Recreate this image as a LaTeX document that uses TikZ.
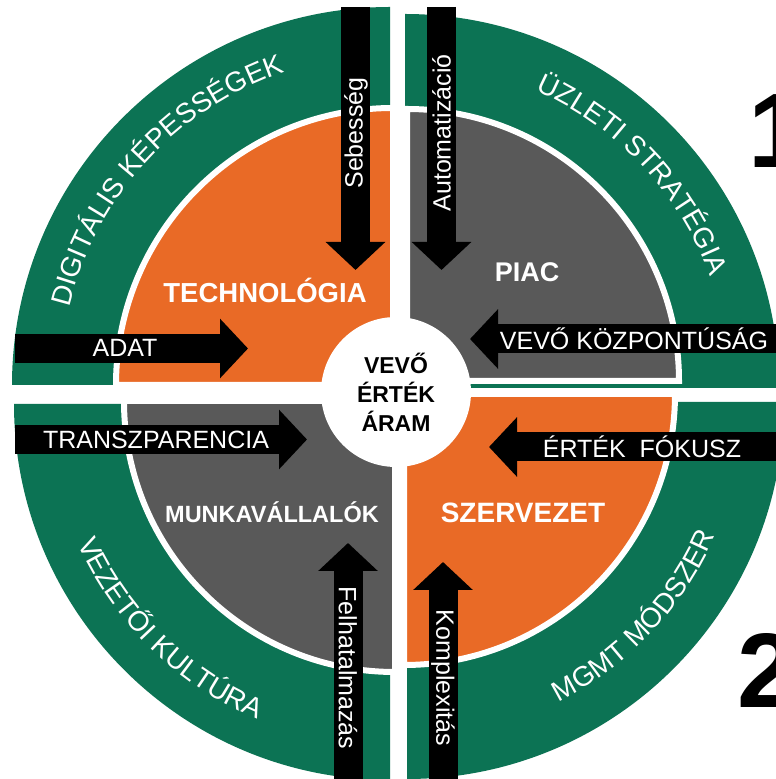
\documentclass[tikz,border=0pt]{standalone}
\usepackage{fontspec}
\setmainfont{Liberation Sans}
\usetikzlibrary{arrows.meta,decorations.text}
\definecolor{ringgreen}{RGB}{12,115,84}
\definecolor{quadorange}{RGB}{233,106,38}
\definecolor{quadgray}{RGB}{89,89,89}
\newcommand{\arrowfont}{\fontsize{25}{30}\selectfont}
\newcommand{\quadfont}[1]{\fontsize{#1}{#1}\selectfont\bfseries}
\newcommand{\ringfont}{\fontsize{28}{32}\selectfont}
\def\numsize{106}

\tikzset{
  blockarrow/.style={line width=29pt, -{Triangle[length=28pt,width=58pt]}},
  arrowlabel/.style={text=white, font=\arrowfont, inner sep=0pt},
  quadlabel/.style={text=white, inner sep=0pt},
  ringlabel/.style={decorate, decoration={text along path, text align=center,
      text color=white, text={|\ringfont|#1}}},
}

\begin{document}
\begin{tikzpicture}[x=1pt,y=1pt]
  \useasboundingbox (0,0) rectangle (776,779);
  \fill[white] (0,0) rectangle (776,779);
  \foreach \gx/\gy/\rg/\cx/\cy/\rc/\col/\a in {390/394/378/393/394/277/quadorange/90,
      405/391/374/407/398/272/quadgray/0, 390/375/376/395/378/271/quadgray/180,
      407/377/377/404/385/271/quadorange/270} {
    \fill[ringgreen] (\gx,\gy) -- +(\a:\rg) arc[start angle=\a, end angle=\a+90, radius=\rg] -- cycle;
    \filldraw[fill=\col, draw=white, line width=6pt] (\cx,\cy) -- +(\a:\rc)
      arc[start angle=\a, end angle=\a+90, radius=\rc] -- cycle;
  }
  \path[shift={(390,394)}, ringlabel={DIGITÁLIS KÉPESSÉGEK}] (182.5:330) arc[start angle=182.5, end angle=92.5, radius=330];
  \path[shift={(405,391)}, ringlabel={ÜZLETI STRATÉGIA}] (88.2:325) arc[start angle=88.2, end angle=-1.8, radius=325];
  \path[shift={(390,375)}, ringlabel={VEZETŐI KULTÚRA}] (180.6:342) arc[start angle=180.6, end angle=270.6, radius=342];
  \path[shift={(407,377)}, ringlabel={MGMT MÓDSZER}] (271.7:336) arc[start angle=271.7, end angle=361.7, radius=336];

  \node[circle, fill=white, minimum size=150pt, inner sep=0pt, align=center,
    font=\fontsize{23}{29}\selectfont\bfseries] (core) at (396,387) {VEVŐ\\ÉRTÉK\\ÁRAM};

  \coordinate (seb0) at (355.5,772);
  \coordinate (seb1) at (355.5,509);
  \coordinate (aut0) at (441.5,772);
  \coordinate (aut1) at (441.5,509);
  \coordinate (adat0) at (15,430.5);
  \coordinate (adat1) at (248,430.5);
  \coordinate (vevo0) at (790,440);
  \coordinate (vevo1) at (470,440);
  \coordinate (tra0) at (15,339.5);
  \coordinate (tra1) at (307,339.5);
  \coordinate (ert0) at (790,332);
  \coordinate (ert1) at (489,332);
  \coordinate (felh0) at (348,-10);
  \coordinate (felh1) at (348,236);
  \coordinate (komp0) at (443,-10);
  \coordinate (komp1) at (443,217);
  \foreach \s/\e in {seb0/seb1, aut0/aut1, adat0/adat1, vevo0/vevo1, tra0/tra1, ert0/ert1, felh0/felh1, komp0/komp1}
    \draw[blockarrow] (\s) -- (\e);

  \node[arrowlabel, rotate=90] (seb) at (356,646) {Sebesség};
  \node[arrowlabel, rotate=90] (aut) at (441.5,646) {Automatizáció};
  \node[arrowlabel] (adat) at (125,431) {ADAT};
  \node[arrowlabel] (vevo) at (634,440) {VEVŐ KÖZPONTÚSÁG};
  \node[arrowlabel] (tra) at (156,339.5) {TRANSZPARENCIA};
  \node[arrowlabel] (ert) at (642,332) {ÉRTÉK\ \ FÓKUSZ};
  \node[arrowlabel, rotate=-90] (felh) at (348,111) {Felhatalmazás};
  \node[arrowlabel, rotate=-90] (komp) at (443,101) {Komplexitás};

  \node[quadlabel, font={\quadfont{27.5}}] (tech) at (265,489) {TECHNOLÓGIA};
  \node[quadlabel, font={\quadfont{27}}] (piac) at (527,507) {PIAC};
  \node[quadlabel, font={\quadfont{23.5}}] (munka) at (272,267) {MUNKAVÁLLALÓK};
  \node[quadlabel, font={\quadfont{28}}] (szerv) at (523,266) {SZERVEZET};

  \node[anchor=base west, inner sep=0pt, font={\quadfont{\numsize}}] (one) at (748,611) {1};
  \node[anchor=base west, inner sep=0pt, font={\quadfont{\numsize}}] (two) at (737,71) {2};
\end{tikzpicture}
\end{document}
